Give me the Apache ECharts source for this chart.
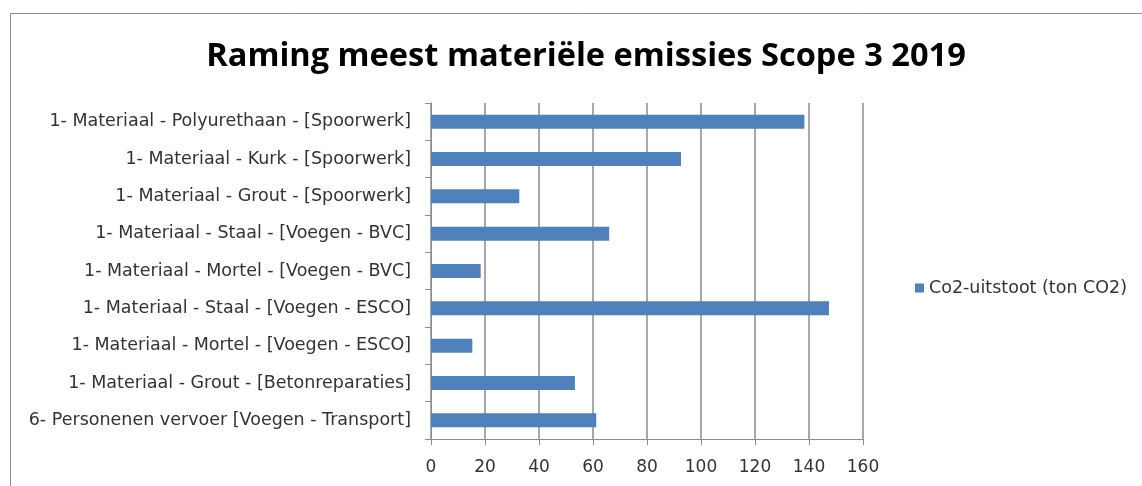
<!DOCTYPE html>
<html>
<head>
<meta charset="utf-8">
<script src="https://cdn.jsdelivr.net/npm/echarts@6/dist/echarts.min.js"></script>
<style>
  html, body { margin: 0; padding: 0; background: #fff; }
  #chart { width: 1142px; height: 486px; }
</style>
</head>
<body>
<div id="chart"></div>
<script>
const categories = [
  '1- Materiaal - Polyurethaan - [Spoorwerk]',
  '1- Materiaal - Kurk - [Spoorwerk]',
  '1- Materiaal - Grout - [Spoorwerk]',
  '1- Materiaal - Staal - [Voegen - BVC]',
  '1- Materiaal - Mortel - [Voegen - BVC]',
  '1- Materiaal - Staal - [Voegen - ESCO]',
  '1- Materiaal - Mortel - [Voegen - ESCO]',
  '1- Materiaal - Grout - [Betonreparaties]',
  '6- Personenen vervoer [Voegen - Transport]'
]
const co2Values = [138.3, 92.6, 32.7, 66.0, 18.4, 147.4, 15.3, 53.3, 61.2]
const seriesName = 'Co2-uitstoot (ton CO2)'

const chart = echarts.init(document.getElementById('chart'))
const font = '"Open Sans", sans-serif'
const labelFont = '"DejaVu Sans", sans-serif'

chart.setOption({
  animation: false,
  textStyle: { fontFamily: font },
  graphic: [
    {
      type: 'rect',
      shape: { x: 10.5, y: 13.5, width: 1200, height: 600 },
      style: { fill: 'none', stroke: '#8c8c8c', lineWidth: 1 }
    }
  ],
  title: {
    text: 'Raming meest materiële emissies Scope 3 2019',
    left: 581,
    top: 35,
    textAlign: 'center',
    textStyle: { fontFamily: font, fontSize: 32.6, fontWeight: 'bold', color: '#000' }
  },
  legend: {
    data: [seriesName],
    left: 915,
    top: 279,
    padding: 0,
    icon: 'rect',
    itemWidth: 9,
    itemHeight: 9,
    textStyle: { fontFamily: labelFont, fontSize: 17.5, color: '#333' }
  },
  grid: {
    left: 431,
    top: 103,
    width: 432,
    height: 336,
    containLabel: false
  },
  xAxis: {
    type: 'value',
    min: 0,
    max: 160,
    interval: 20,
    axisLine: { show: true, lineStyle: { color: '#8c8c8c', width: 1 } },
    axisTick: { show: true, length: 6, lineStyle: { color: '#8c8c8c' } },
    axisLabel: { fontFamily: labelFont, fontSize: 17, color: '#333', margin: 20 },
    splitLine: { show: true, lineStyle: { color: '#8c8c8c', width: 1.5 } }
  },
  yAxis: {
    type: 'category',
    inverse: true,
    data: categories,
    axisLine: { show: true, lineStyle: { color: '#8c8c8c', width: 1 } },
    axisTick: { show: true, length: 6, inside: false, lineStyle: { color: '#8c8c8c' } },
    axisLabel: { fontFamily: labelFont, fontSize: 17.5, color: '#333', margin: 20 }
  },
  series: [
    {
      name: seriesName,
      type: 'bar',
      data: co2Values,
      barWidth: 14,
      itemStyle: { color: '#4f81bd' }
    }
  ]
})
</script>
</body>
</html>
